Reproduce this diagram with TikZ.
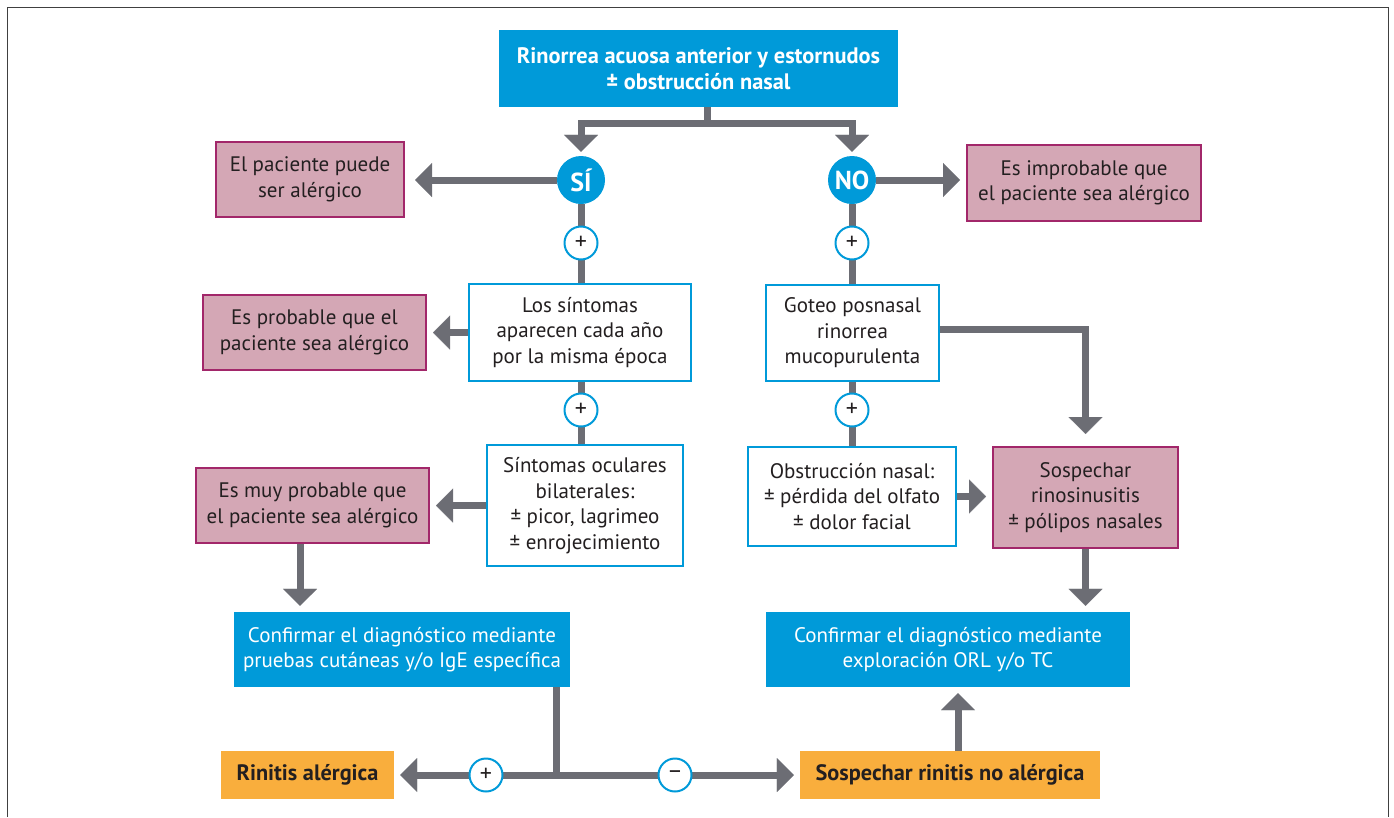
\documentclass[tikz,border=0pt]{standalone}
\usepackage{fontspec}
\setmainfont{PT Sans}
\usetikzlibrary{arrows.meta,backgrounds}
\definecolor{cblue}{HTML}{009AD9}
\definecolor{cpink}{HTML}{D4A7B5}
\definecolor{cmag}{HTML}{A2276A}
\definecolor{cgray}{HTML}{6C6D74}
\definecolor{corange}{HTML}{F9AE3D}
\definecolor{ctext}{HTML}{231F20}
\begin{document}
\begin{tikzpicture}[x=1pt,y=-1pt,
  box/.style={rectangle, inner sep=0pt, align=center, text=ctext,
              font=\fontsize{21}{25.5}\selectfont},
  bluebox/.style={box, fill=cblue, text=white},
  outbox/.style={box, draw=cblue, line width=2pt, fill=white},
  pinkbox/.style={box, draw=cmag, line width=2pt, fill=cpink},
  orangebox/.style={box, fill=corange, font=\bfseries\fontsize{22.3}{25}\selectfont},
  answer/.style={circle, fill=cblue, text=white, minimum size=48pt, inner sep=0pt,
                 font=\bfseries\fontsize{26}{26}\selectfont},
  sign/.style={circle, draw=cblue, line width=2pt, fill=white, minimum size=33pt,
               inner sep=0pt, text=ctext, font=\fontsize{24}{24}\selectfont},
  link/.style={draw=cgray, line width=7pt},
  conn/.style={link, -{Triangle[length=17pt,width=34pt,line width=0.1pt]}, shorten >=6pt}]

\useasboundingbox (0,0) rectangle (1394,817);

% outer frame (open at the bottom)
\draw[line width=1.5pt, color=black!75] (7.5,817) -- (7.5,7.5) -- (1388.5,7.5) -- (1388.5,817);

% ---- nodes ----
\node[bluebox, minimum width=399pt, minimum height=77pt,
      font=\bfseries\fontsize{22.4}{26}\selectfont] (top) at (698.5,68.5)
      {Rinorrea acuosa anterior y estornudos\\± obstrucción nasal};

\node[answer] (si) at (581,180) {SÍ};
\node[answer] (no) at (852,180) {NO};

\node[pinkbox, minimum width=188pt, minimum height=75pt] (puede) at (310,179.5)
      {El paciente puede\\ser alérgico};
\node[pinkbox, minimum width=234pt, minimum height=76pt] (improb) at (1084,183)
      {Es improbable que\\el paciente sea alérgico};

\node[sign] (s1) at (581,243) {+};
\node[sign] (s2) at (852,243) {+};

\node[outbox, minimum width=222pt, minimum height=97pt] (los) at (580,332.5)
      {Los síntomas\\aparecen cada año\\por la misma época};
\node[outbox, minimum width=173pt, minimum height=96pt] (goteo) at (852.5,333)
      {Goteo posnasal\\rinorrea\\mucopurulenta};
\node[pinkbox, minimum width=223pt, minimum height=75pt] (prob) at (314.5,332.5)
      {Es probable que el\\paciente sea alérgico};

\node[sign] (s3) at (581,410) {+};
\node[sign] (s4) at (852,410) {+};

\node[outbox, minimum width=196pt, minimum height=121pt] (ocul) at (585,505.5)
      {Síntomas oculares\\bilaterales:\\± picor, lagrimeo\\± enrojecimiento};
\node[pinkbox, minimum width=233pt, minimum height=75pt] (muy) at (312.5,505.5)
      {Es muy probable que\\el paciente sea alérgico};
\node[outbox, minimum width=208pt, minimum height=99pt] (obs) at (852,496.5)
      {Obstrucción nasal:\\± pérdida del olfato\\± dolor facial};
\node[pinkbox, minimum width=185pt, minimum height=101pt] (rino) at (1085.5,497.5)
      {Sospechar\\rinosinusitis\\± pólipos nasales};

\node[bluebox, minimum width=336pt, minimum height=75pt] (cut) at (402,649.5)
      {Confirmar el diagnóstico mediante\\pruebas cutáneas y/o IgE específica};
\node[bluebox, minimum width=364pt, minimum height=75pt] (orl) at (948,649.5)
      {Confirmar el diagnóstico mediante\\exploración ORL y/o TC};

\node[orangebox, minimum width=173pt, minimum height=48pt] (rin) at (307.5,775)
      {Rinitis alérgica};
\node[orangebox, minimum width=300pt, minimum height=48pt] (sosp) at (950,775)
      {Sospechar rinitis no alérgica};

\node[sign] (plus) at (486,775) {+};
\node[sign] (minus) at (675,775) {–};

% helper x positions of the connectors
\coordinate (stem) at (707,0);
\coordinate (mx) at (300,0);
\coordinate (jx) at (556,0);
\coordinate (ux) at (958,0);
\coordinate (J) at (556,775);

% ---- connectors ----
\begin{scope}[on background layer]
  \draw[conn, shorten >=4pt] (top.south -| stem) -- ++(0,16) -| (si.north);
  \draw[conn, shorten >=4pt] (top.south -| stem) -- ++(0,16) -| (no.north);

  \draw[conn, shorten >=10pt] (si.west) -- (puede.east |- si.west);
  \draw[conn] (no.east) -- (improb.west |- no.east);

  \draw[link] (si.south) -- (si.south |- los.north);
  \draw[link] (no.south) -- (no.south |- goteo.north);

  \draw[conn] (los.west) -- (prob.east);
  \draw[link] (s3 |- los.south) -- (s3 |- ocul.north);
  \draw[conn] (ocul.west) -- (muy.east);
  \draw[conn] (muy.south -| mx) -- (cut.north -| mx);

  \draw[link] (s4 |- goteo.south) -- (s4 |- obs.north);
  \draw[conn, shorten >=12pt] ([yshift=4pt]goteo.east) -| (rino.north);
  \draw[conn] (obs.east) -- (rino.west |- obs.east);
  \draw[conn] (rino.south) -- (rino.south |- orl.north);

  \draw[link] (cut.south -| jx) -- (J);
  \draw[conn] (J) -- (rin.east);
  \draw[conn] (J) -- (sosp.west);
  \draw[conn] (sosp.north -| ux) -- (orl.south -| ux);
\end{scope}
\end{tikzpicture}
\end{document}
